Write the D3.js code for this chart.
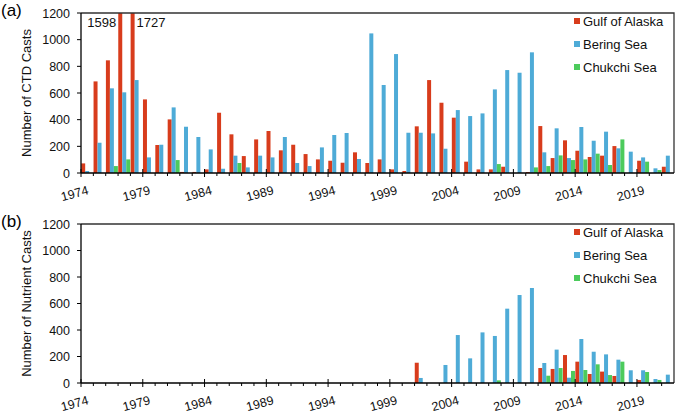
<!DOCTYPE html>
<html lang="en">
<head>
    <meta charset="UTF-8">
    <title>CTD and Nutrient Casts</title>
    <style>
        body{
            margin: 0;
            background-color: white;
            font-family: "Liberation Sans", Arial, sans-serif;
        }
        #chart{
            width: 675px;
            height: 416px;
        }
    </style>
</head>
<body>
    <div id="chart"></div>
</body>
<script src="https://d3js.org/d3.v7.min.js"></script>
<script>

// years on the category axis
let years = [1974,1975,1976,1977,1978,1979,1980,1981,1982,1983,
             1984,1985,1986,1987,1988,1989,1990,1991,1992,1993,
             1994,1995,1996,1997,1998,1999,2000,2001,2002,2003,
             2004,2005,2006,2007,2008,2009,2010,2011,2012,2013,
             2014,2015,2016,2017,2018,2019,2020,2021]

let seriesNames = ["Gulf of Alaska","Bering Sea","Chukchi Sea"]
let yTicks = [0,200,400,600,800,1000,1200]

// (a) CTD casts
let ctdGulf    = [72,687,845,1598,1727,552,210,402,8,8,
                  27,452,290,127,252,315,170,212,142,102,
                  92,77,155,75,102,27,15,350,697,527,
                  415,85,27,27,47,0,7,352,112,245,
                  167,120,130,202,0,92,0,47]
let ctdBering  = [15,227,635,605,697,117,212,492,347,270,
                  177,32,130,42,130,117,270,75,52,192,
                  285,300,105,1047,660,892,302,302,297,182,
                  472,427,447,627,772,752,905,155,335,112,
                  345,242,310,185,160,117,35,130]
let ctdChukchi = [0,0,52,102,0,0,0,97,0,0,
                  0,0,75,0,0,0,0,0,0,0,
                  0,0,0,0,0,0,0,0,0,0,
                  0,0,0,67,0,0,42,52,132,97,
                  102,145,60,252,0,85,22,0]

// (b) nutrient casts
let nutGulf    = [0,0,0,0,0,0,0,0,0,0,
                  0,0,0,0,0,0,0,0,0,0,
                  0,0,0,0,0,0,0,153,0,0,
                  0,0,0,0,0,0,0,113,106,211,
                  161,68,86,53,0,23,0,0]
let nutBering  = [0,0,0,0,0,0,0,0,0,0,
                  0,0,0,0,0,0,0,0,0,0,
                  0,0,0,0,0,0,0,38,0,136,
                  362,186,382,355,561,664,717,151,252,40,
                  332,236,216,176,96,96,30,63]
let nutChukchi = [0,0,0,0,0,0,0,0,0,0,
                  0,0,0,0,0,0,0,0,0,0,
                  0,0,0,0,0,0,0,0,0,0,
                  0,0,0,20,0,0,0,55,113,91,
                  98,141,60,161,0,83,23,0]

let colors = ["#d83c1c","#4eabd7","#4ccb5c"]

let svg = d3.select("#chart")
    .append("svg")
    .attr("width", 675)
    .attr("height", 416)

let xScale = d3.scaleBand()
    .domain(years)
    .range([81, 674])

let inner = d3.scaleBand()
    .domain(seriesNames)
    .range([0, xScale.bandwidth()])
    .paddingOuter(0.05)

let color = d3.scaleOrdinal()
    .domain(seriesNames)
    .range(colors)

function drawPanel(top, bottom, letter, title, series, notes){
    let yScale = d3.scaleLinear()
        .domain([0, 1200])
        .range([bottom, top])

    let g = svg.append("g")

    // bars
    series.forEach((vals, s) => {
        g.append("g")
            .selectAll("rect")
            .data(years.map((y, i) => ({year: y, value: vals[i]})).filter(d => d.value > 0))
            .join("rect")
            .attr("x", d => xScale(d.year) + inner(seriesNames[s]))
            .attr("width", inner.bandwidth())
            .attr("y", d => yScale(Math.min(d.value, 1200)))
            .attr("height", d => yScale(0) - yScale(Math.min(d.value, 1200)))
            .style("fill", color(seriesNames[s]))
    })

    // plot box (top & right)
    g.append("path")
        .attr("d", `M81,${top}H674V${bottom}`)
        .attr("fill", "none")
        .attr("stroke", "#333")
        .attr("stroke-width", 1.3)

    // y axis
    let yAxis = g.append("g")
    yAxis.append("line")
        .attr("x1", 81).attr("x2", 81)
        .attr("y1", top).attr("y2", bottom)
        .attr("stroke", "black").attr("stroke-width", 1.3)
    yAxis.selectAll(".ytick")
        .data(yTicks)
        .join("line")
        .attr("x1", 77).attr("x2", 81)
        .attr("y1", d => yScale(d)).attr("y2", d => yScale(d))
        .attr("stroke", "black")
    yAxis.selectAll("text")
        .data(yTicks)
        .join("text")
        .attr("x", 70)
        .attr("y", d => yScale(d) + 4.5)
        .attr("text-anchor", "end")
        .style("font-size", "12.5px")
        .style("fill", "#111")
        .text(d => d)

    // x axis
    let xAxis = g.append("g")
    xAxis.append("line")
        .attr("x1", 81).attr("x2", 674)
        .attr("y1", bottom).attr("y2", bottom)
        .attr("stroke", "black").attr("stroke-width", 1.3)
    xAxis.selectAll(".xtick")
        .data(years)
        .join("line")
        .attr("x1", d => xScale(d)).attr("x2", d => xScale(d))
        .attr("y1", (d, i) => i % 5 == 0 ? bottom - 4 : bottom)
        .attr("y2", (d, i) => i % 5 == 0 ? bottom + 4 : bottom + 3)
        .attr("stroke", "black")
    xAxis.selectAll("text")
        .data(years.filter((d, i) => i % 5 == 0))
        .join("text")
        .attr("transform", d => `translate(${xScale(d) + xScale.bandwidth() / 2 + 2},${bottom + 21}) rotate(-15)`)
        .attr("text-anchor", "end")
        .style("font-size", "12.5px")
        .style("fill", "#111")
        .text(d => d)

    // panel letter and axis title
    svg.append("text")
        .attr("x", 1)
        .attr("y", top + 3)
        .style("font-size", "17px")
        .text(letter)

    svg.append("g")
        .attr("transform", `translate(31,${(top + bottom) / 2})`)
        .append("text")
        .attr("transform", "rotate(-90)")
        .attr("text-anchor", "middle")
        .style("font-size", "13px")
        .style("fill", "#111")
        .text(title)

    // legend
    let legend = g.selectAll(".legend")
        .data(seriesNames)
        .join("g")
    legend.append("rect")
        .attr("x", 574)
        .attr("y", (d, i) => top + 5 + i * 23)
        .attr("width", 6)
        .attr("height", 6)
        .style("fill", d => color(d))
    legend.append("text")
        .attr("x", 583)
        .attr("y", (d, i) => top + 13 + i * 23)
        .style("font-size", "13px")
        .style("fill", "#111")
        .text(d => d)

    // labels for clipped bars
    notes.forEach(n => {
        svg.append("text")
            .attr("x", xScale(n.year) + inner(seriesNames[0]) + n.dx)
            .attr("y", top + 14)
            .attr("text-anchor", n.anchor)
            .style("font-size", "13px")
            .style("fill", "#111")
            .text(n.label)
    })
}

drawPanel(13, 173, "(a)", "Number of CTD Casts",
    [ctdGulf, ctdBering, ctdChukchi],
    [{year: 1977, label: "1598", dx: -2, anchor: "end"},
     {year: 1978, label: "1727", dx: 6, anchor: "start"}])

drawPanel(224, 383, "(b)", "Number of Nutrient Casts",
    [nutGulf, nutBering, nutChukchi], [])

</script>
</html>
